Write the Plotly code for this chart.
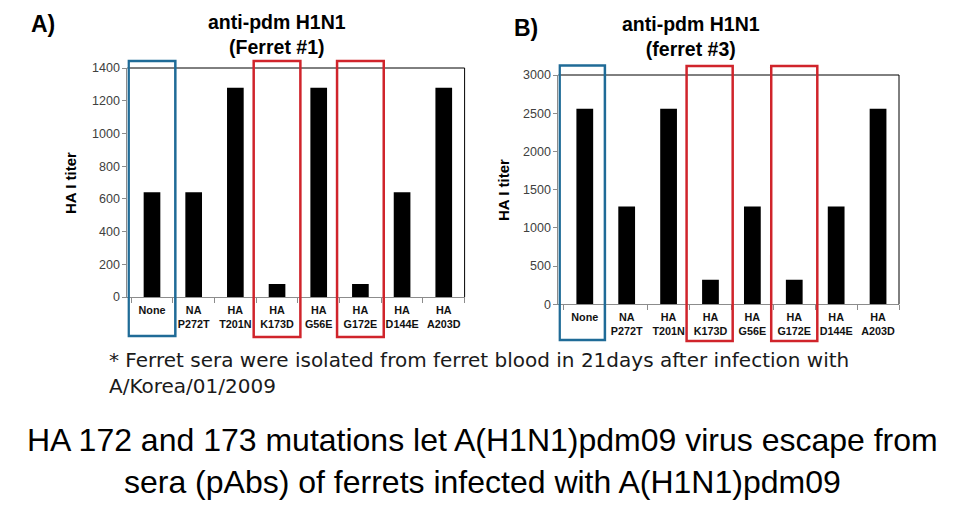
import plotly.graph_objects as go

# The page body has an 8px default margin; the figure is sized and placed to compensate.
OFF = 8
W, H = 965 - OFF, 508 - OFF

categories = ["None", "NA<br>P272T", "HA<br>T201N", "HA<br>K173D", "HA<br>G56E",
              "HA<br>G172E", "HA<br>D144E", "HA<br>A203D"]
ferret1_titer = [640, 640, 1280, 80, 1280, 80, 640, 1280]
ferret3_titer = [2560, 1280, 2560, 320, 1280, 320, 1280, 2560]
ferret1_ticks = [0, 200, 400, 600, 800, 1000, 1200, 1400]
ferret3_ticks = [0, 500, 1000, 1500, 2000, 2500, 3000]

def px(x):
    return (x - OFF) / W

def py(y):
    return 1 - (y - OFF) / H

fig = go.Figure()
fig.add_trace(go.Bar(x=categories, y=ferret1_titer, xaxis="x", yaxis="y",
                     marker=dict(color="black", line=dict(width=0)), width=0.4))
fig.add_trace(go.Bar(x=categories, y=ferret3_titer, xaxis="x2", yaxis="y2",
                     marker=dict(color="black", line=dict(width=0)), width=0.4))

xcommon = dict(type="category", tickson="boundaries", ticks="outside", ticklen=5,
               tickcolor="#8c8c8c", showline=True, linecolor="#8c8c8c", linewidth=1,
               tickangle=0, showgrid=False, zeroline=False, fixedrange=True,
               automargin=False,
               tickfont=dict(family="Liberation Sans, Arial, sans-serif", size=10.8,
                             color="#111111", weight="bold"),
               ticklabelstandoff=3)
ycommon = dict(ticks="outside", ticklen=4, tickcolor="#8c8c8c", showline=True,
               linecolor="#8c8c8c", linewidth=1, showgrid=False, zeroline=False,
               automargin=False,
               tickfont=dict(family="Liberation Sans, Arial, sans-serif", size=12.5,
                             color="#404040"), fixedrange=True)

fig.update_layout(
    template="none",
    width=W, height=H, margin=dict(l=0, r=0, t=0, b=0, pad=0, autoexpand=False),
    paper_bgcolor="white", plot_bgcolor="white", showlegend=False, bargap=0.6,
    xaxis=dict(domain=[px(127.4), px(464.6)], anchor="y", **xcommon),
    yaxis=dict(domain=[py(297), py(68)], anchor="x", range=[0, 1400],
               tickvals=ferret1_ticks, **ycommon),
    xaxis2=dict(domain=[px(558.4), px(899)], anchor="y2", **xcommon),
    yaxis2=dict(domain=[py(304.3), py(75)], anchor="x2", range=[0, 3000],
                tickvals=ferret3_ticks, **ycommon),
)

# frame top/right black lines
for xr, yr in [("x domain", "y domain"), ("x2 domain", "y2 domain")]:
    fig.add_shape(type="line", xref=xr, yref=yr, x0=0, x1=1, y0=1, y1=1,
                  line=dict(color="black", width=1))
    fig.add_shape(type="line", xref=xr, yref=yr, x0=1, x1=1, y0=0, y1=1,
                  line=dict(color="black", width=1))

BLUE = "#1f6b97"
RED = "#d0242b"
boxes = [
    ("x", 0, -0.56, 0.56, 61, 336, BLUE),
    ("x", 3, -0.56, 0.56, 61, 337, RED),
    ("x", 5, -0.56, 0.56, 61, 337, RED),
    ("x2", 0, -0.60, 0.48, 65.5, 340, BLUE),
    ("x2", 3, -0.57, 0.53, 66, 341, RED),
    ("x2", 5, -0.55, 0.55, 66, 341, RED),
]
for xr, ci, d0, d1, yt, yb, col in boxes:
    fig.add_shape(type="rect", xref=xr, yref="paper", x0=ci + d0, x1=ci + d1,
                  y0=py(yb), y1=py(yt), line=dict(color=col, width=2.5),
                  fillcolor="rgba(0,0,0,0)")

bold = dict(family="Liberation Sans, Arial, sans-serif", color="black", weight="bold")
ann = [
    dict(text="A)", x=px(42.5), y=py(24), font=dict(size=23, **bold)),
    dict(text="B)", x=px(526), y=py(28), font=dict(size=23, **bold)),
    dict(text="anti-pdm H1N1<br>(Ferret #1)", x=px(277), y=py(34), font=dict(size=19.5, **bold)),
    dict(text="anti-pdm H1N1<br>(ferret #3)", x=px(691), y=py(36.5), font=dict(size=19.5, **bold)),
    dict(text="HA I titer", x=px(70), y=py(183), textangle=-90, font=dict(size=15, **bold)),
    dict(text="HA I titer", x=px(503), y=py(190), textangle=-90, font=dict(size=15, **bold)),
    dict(text="* Ferret sera were isolated from ferret blood in 21days after infection with<br>A/Korea/01/2009",
         x=px(107), y=py(372.5), xanchor="left", align="left",
         font=dict(family="DejaVu Sans, sans-serif", size=20, color="#1a1a1a")),
    dict(text="HA 172 and 173 mutations let A(H1N1)pdm09 virus escape from<br>sera (pAbs) of ferrets infected with A(H1N1)pdm09",
         x=px(482.5), y=py(461), font=dict(family="Liberation Sans, Arial, sans-serif", size=32, color="black")),
]
for a in ann:
    a.setdefault("xanchor", "center")
    a.update(xref="paper", yref="paper", showarrow=False, yanchor="middle")
    fig.add_annotation(**a)

fig.write_html("out.html")
